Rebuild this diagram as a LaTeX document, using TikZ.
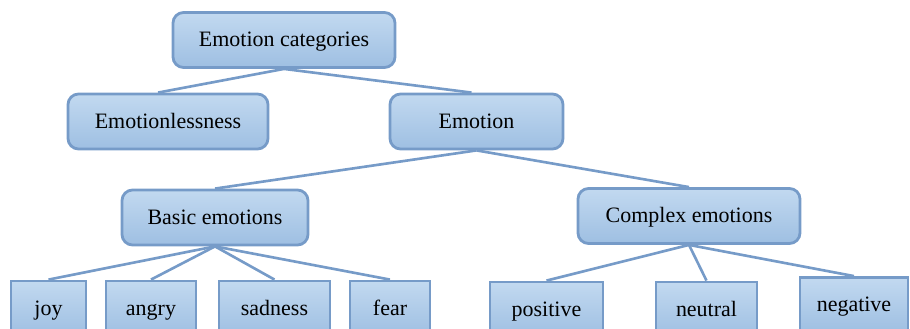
\documentclass[tikz,border=0pt]{standalone}
\usepackage{fontspec}
\setmainfont{Liberation Serif}
\definecolor{boxline}{RGB}{118,155,200}
\definecolor{boxtop}{RGB}{194,217,240}
\definecolor{boxbot}{RGB}{158,191,226}
\tikzset{
  catbox/.style={draw=boxline, line width=1.6pt, rounded corners=6pt,
    top color=boxtop, bottom color=boxbot, minimum height=1.1cm,
    font=\fontsize{12.5}{14}\selectfont, inner sep=2pt,
    text height=2.1ex, text depth=0.4ex},
  leafbox/.style={catbox, rounded corners=0pt},
  link/.style={draw=boxline, line width=1.5pt}
}
\begin{document}
\begin{tikzpicture}
  \clip (0,0) rectangle (18.2,-6.58);
  \useasboundingbox (0,0) rectangle (18.2,-6.58);

  \node[catbox, minimum width=4.44cm] (CatN)     at (5.68,-0.80)  {Emotion categories};

  \node[catbox, minimum width=4.00cm] (LessN)    at (3.36,-2.43)  {Emotionlessness};
  \node[catbox, minimum width=3.46cm] (EmoN)     at (9.53,-2.43)  {Emotion};

  \node[catbox, minimum width=3.72cm] (BasicN)   at (4.30,-4.35)  {Basic emotions};
  \node[catbox, minimum width=4.44cm] (ComplexN) at (13.78,-4.32) {Complex emotions};

  \node[leafbox, minimum width=1.50cm] (JoyN)      at (0.97,-6.17)  {joy};
  \node[leafbox, minimum width=1.80cm] (AngryN)    at (3.02,-6.17)  {angry};
  \node[leafbox, minimum width=2.22cm] (SadnessN)  at (5.49,-6.17)  {sadness};
  \node[leafbox, minimum width=1.60cm] (FearN)     at (7.80,-6.17)  {fear};

  \node[leafbox, minimum width=2.26cm] (PositiveN) at (10.93,-6.19) {positive};
  \node[leafbox, minimum width=2.02cm] (NeutralN)  at (14.13,-6.19) {neutral};
  \node[leafbox, minimum width=2.16cm] (NegativeN) at (17.08,-6.10) {negative};

  \draw[link] (CatN.south)     -- ([xshift=-0.2cm]LessN.north);
  \draw[link] (CatN.south)     -- ([xshift=-0.1cm]EmoN.north);

  \draw[link] (EmoN.south)     -- (BasicN.north);
  \draw[link] (EmoN.south)     -- (ComplexN.north);

  \draw[link] (BasicN.south)   -- (JoyN.north);
  \draw[link] (BasicN.south)   -- (AngryN.north);
  \draw[link] (BasicN.south)   -- (SadnessN.north);
  \draw[link] (BasicN.south)   -- (FearN.north);

  \draw[link] (ComplexN.south) -- (PositiveN.north);
  \draw[link] (ComplexN.south) -- (NeutralN.north);
  \draw[link] (ComplexN.south) -- (NegativeN.north);
\end{tikzpicture}
\end{document}
